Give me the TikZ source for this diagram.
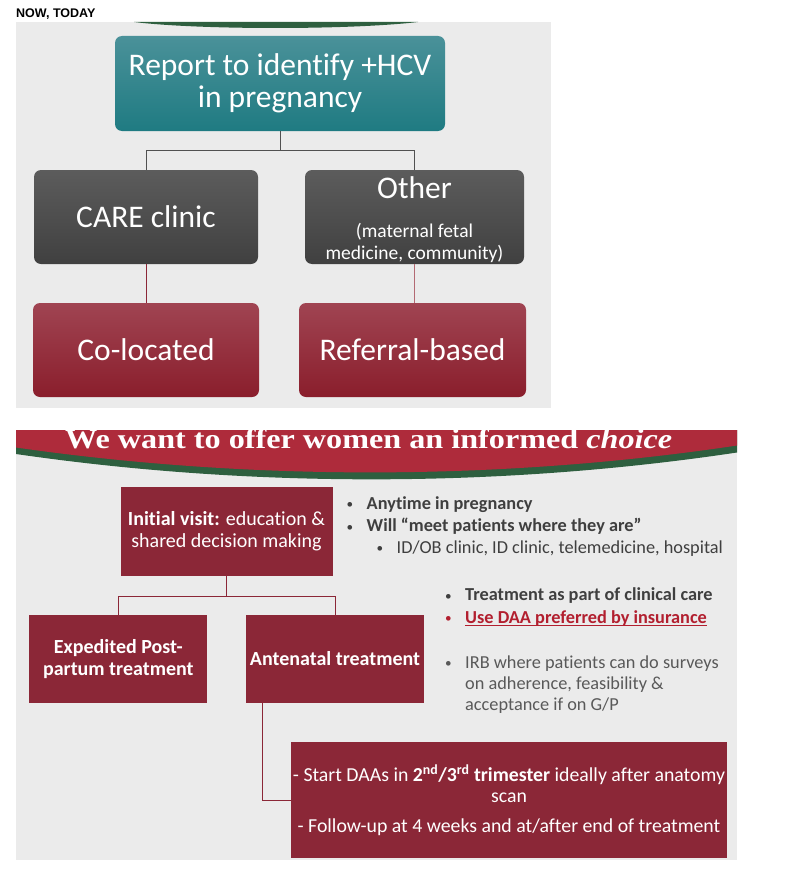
\documentclass[tikz,border=0pt]{standalone}
\usepackage{fontspec}
\usepackage{graphicx}
\setmainfont{Carlito}[Ligatures=NoCommon]
\newfontfamily\arialfont{Liberation Sans}
\newfontfamily\titlefont{Liberation Serif}
\usetikzlibrary{calc}
\definecolor{panelgray}{HTML}{EBEBEB}
\definecolor{tealtop}{HTML}{4A9199}
\definecolor{tealbot}{HTML}{1F7B82}
\definecolor{graytop}{HTML}{5C5C5C}
\definecolor{graybot}{HTML}{404040}
\definecolor{redtop}{HTML}{A04452}
\definecolor{redbot}{HTML}{8A1E2C}
\definecolor{maroon}{HTML}{8B2737}
\definecolor{bannerred}{HTML}{AE2B3B}
\definecolor{bannergreen}{HTML}{2E5F3F}
\definecolor{lineg}{HTML}{505050}
\definecolor{linepink}{HTML}{B36A73}
\definecolor{txtdark}{HTML}{3F3F3F}
\definecolor{txtgray}{HTML}{595959}
\definecolor{txtred}{HTML}{B21F2F}
\newcommand\myul[1]{\setbox0\hbox{#1}\rlap{\rule[-2.4pt]{\wd0}{1.1pt}}\box0}
\newcommand\mybul{\makebox[20pt][l]{\raisebox{0.6pt}{\scalebox{0.72}{•}}}}
\tikzset{
  tealbox/.style={rounded corners=7pt, top color=tealtop, bottom color=tealbot,
    minimum width=330pt, minimum height=95pt, inner sep=0pt, text=white, align=center,
    font=\fontsize{31.5}{32.3}\selectfont},
  graybox/.style={rounded corners=7pt, top color=graytop, bottom color=graybot,
    minimum height=94pt, inner sep=0pt, text=white, align=center},
  redbox/.style={rounded corners=7pt, top color=redtop, bottom color=redbot,
    minimum height=94pt, inner sep=0pt, text=white, align=center,
    font=\fontsize{31.5}{35}\selectfont},
  flatbox/.style={fill=maroon, inner sep=0pt, text=white, align=center,
    font=\fontsize{20}{22}\selectfont},
  conngray/.style={draw=lineg, line width=0.9pt},
  connred/.style={draw=maroon, line width=0.9pt},
  connpink/.style={draw=linepink, line width=0.9pt},
  bullettxt/.style={anchor=base west, inner sep=0pt, font=\fontsize{18.3}{21}\selectfont},
}
\begin{document}
\begin{tikzpicture}[x=1pt,y=-1pt]
\useasboundingbox (0,0) rectangle (796,875);
\fill[white] (0,0) rectangle (796,875);

% ---------- top panel ----------
\node[anchor=base west, inner sep=0pt, font=\arialfont\bfseries\fontsize{12.5}{14}\selectfont] (now) at (16,18) {NOW, TODAY};
\fill[panelgray] (16,22) rectangle (551,408);
\fill[bannergreen] (134,22) .. controls (200,30) and (350,30) .. (418,22) -- cycle;

\node[tealbox] (teal) at (280,83.5)
  {\raisebox{-1.2pt}[\height][\depth]{\begin{tabular}{@{}c@{}}Report to identify +HCV\\in pregnancy\end{tabular}}};
\node[graybox, minimum width=224pt, font=\fontsize{31.5}{35}\selectfont] (care) at (146,217) {CARE clinic};
\node[graybox, minimum width=219pt, font=\fontsize{19.5}{21.5}\selectfont] (other) at (414.5,217)
  {\raisebox{-4pt}[\height][\depth]{\begin{tabular}{@{}c@{}}{\fontsize{31.5}{35}\selectfont Other}\\[18pt](maternal fetal\\medicine, community)\end{tabular}}};
\node[redbox, minimum width=226pt] (coloc) at (146,350) {Co-located};
\node[redbox, minimum width=227pt] (referral) at (412.5,350) {Referral-based};

\draw[conngray] (teal.south) -- ++(0,19) coordinate (j1) -| (care.north);
\draw[conngray] (j1) -| (other.north);
\draw[connred] (care.south) -- (coloc.north);
\draw[connpink] (other.south) -- (other.south |- referral.north);

% ---------- bottom panel ----------
\begin{scope}
\clip (16,430) rectangle (737,860);
\fill[panelgray] (16,430) rectangle (737,860);
\fill[bannergreen] (16,430) -- (737,430) -- (737,452.5) .. controls (500,488) and (250,488) .. (16,454) -- cycle;
\fill[bannerred] (16,430) -- (737,430) -- (737,445.5) .. controls (500,481) and (250,481) .. (16,447.5) -- cycle;
\node[anchor=base west, inner sep=0pt, text=white] (title) at (65,448.5)
  {\resizebox{607pt}{19.5pt}{\titlefont\bfseries We want to offer women an informed \textit{choice}}};
\end{scope}

\node[flatbox, minimum width=212pt, minimum height=88.5pt] (init) at (226.5,531.5)
  {\textbf{Initial visit:} education \&\\shared decision making};
\node[flatbox, minimum width=178pt, minimum height=87.5pt] (exped) at (118.3,659)
  {\textbf{Expedited Post-}\\\textbf{partum treatment}};
\node[flatbox, minimum width=178pt, minimum height=87.5pt] (ante) at (335,659)
  {\textbf{Antenatal treatment}};
\node[flatbox, minimum width=436pt, minimum height=116pt, font=\fontsize{19.8}{21}\selectfont] (daa) at (509,800)
  {- Start DAAs in \textbf{2\textsuperscript{nd}/3\textsuperscript{rd} trimester} ideally after anatomy\\scan\\[9pt]- Follow-up at 4 weeks and at/after end of treatment};

\draw[connred] (init.south) -- ++(0,20.5) coordinate (j2) -| (exped.north);
\draw[connred] (j2) -| (ante.north);
\draw[connred] (ante.south west) ++(17,0) |- (daa.west);

\node[bullettxt, text=txtdark] (b1) at (346.5,509.3) {\mybul\textbf{Anytime in pregnancy}};
\node[bullettxt, text=txtdark] (b2) at (346.5,531.7) {\mybul\textbf{Will “meet patients where they are”}};
\node[bullettxt, text=txtdark] (b3) at (376.5,553.3) {\mybul ID/OB clinic, ID clinic, telemedicine, hospital};
\node[bullettxt, text=txtdark] (b4) at (445,600.7) {\mybul\textbf{Treatment as part of clinical care}};
\node[bullettxt, text=txtred] (b5) at (445,623.3) {\mybul\myul{\textbf{Use DAA preferred by insurance}}};
\node[bullettxt, text=txtgray] (b6) at (445,668.3) {\mybul\begin{tabular}[t]{@{}l@{}}IRB where patients can do surveys\\on adherence, feasibility \&\\acceptance if on G/P\end{tabular}};
\end{tikzpicture}
\end{document}
